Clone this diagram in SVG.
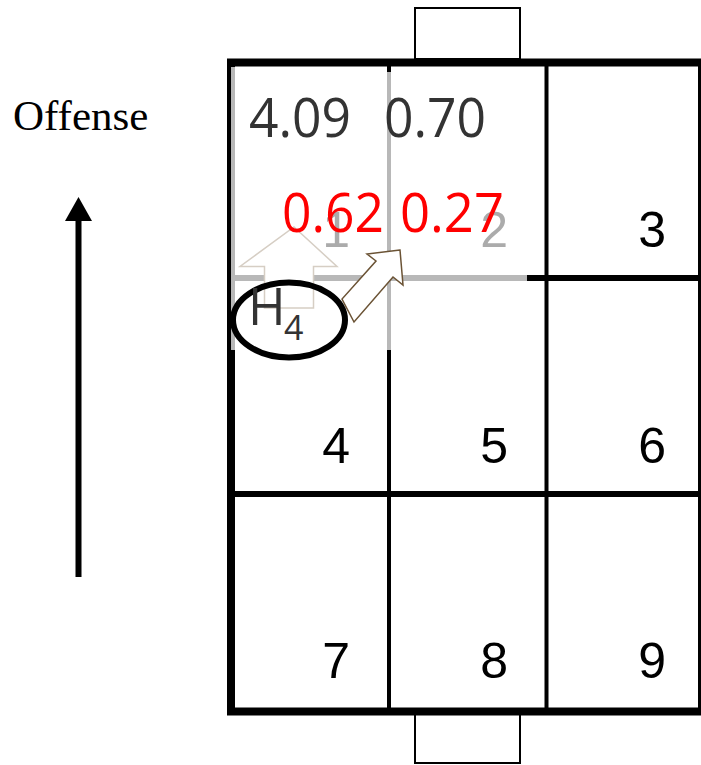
<svg xmlns="http://www.w3.org/2000/svg" width="701" height="765" viewBox="0 0 701 765">
  <style>
    .grid { stroke: #000; fill: none; }
    .hl { stroke: #b8b8b8; fill: none; }
    .goal { fill: #fff; stroke: #000; stroke-width: 2; }
    .cellno { font-family: "Liberation Sans", Arial, sans-serif; font-size: 50px; fill: #000; text-anchor: end; }
    .cellno.dim { fill: #ababab; }
    .val { font-family: "Open Sans", "Noto Sans", sans-serif; font-size: 54px; }
    .val.base { fill: #333; }
    .val.prob { fill: #ff0000; }
  </style>
  <rect width="701" height="765" fill="#fff"/>

  <!-- goal boxes -->
  <g id="goal-top"><rect class="goal" x="415" y="8" width="105" height="51"/></g>
  <g id="goal-bottom"><rect class="goal" x="415" y="714" width="105" height="49"/></g>

  <!-- field grid -->
  <g id="field">
    <line class="grid" x1="389" y1="62" x2="389" y2="711" stroke-width="4"/>
    <line class="grid" x1="546.5" y1="62" x2="546.5" y2="711" stroke-width="4"/>
    <line class="grid" x1="231" y1="278" x2="703" y2="278" stroke-width="6"/>
    <line class="grid" x1="231" y1="494" x2="703" y2="494" stroke-width="6"/>
    <rect class="grid" x="231" y="62.5" width="471" height="649" stroke-width="8"/>
  </g>

  <!-- highlighted zone outline -->
  <g id="zone-highlight">
    <line class="hl" x1="233" y1="67" x2="233" y2="350" stroke-width="4"/>
    <line class="hl" x1="389" y1="72" x2="389" y2="350" stroke-width="4"/>
    <line class="hl" x1="235" y1="278" x2="527" y2="278" stroke-width="6"/>
  </g>

  <!-- zone numbers -->
  <g id="zone-1"><text class="cellno dim" x="350" y="247">1</text></g>
  <g id="zone-2"><text class="cellno dim" x="508" y="247">2</text></g>
  <g id="zone-3"><text class="cellno" x="666" y="247">3</text></g>
  <g id="zone-4"><text class="cellno" x="350" y="463">4</text></g>
  <g id="zone-5"><text class="cellno" x="508" y="463">5</text></g>
  <g id="zone-6"><text class="cellno" x="666" y="463">6</text></g>
  <g id="zone-7"><text class="cellno" x="350" y="678">7</text></g>
  <g id="zone-8"><text class="cellno" x="508" y="678">8</text></g>
  <g id="zone-9"><text class="cellno" x="666" y="678">9</text></g>

  <!-- transition arrows -->
  <g id="connectors">
    <polygon points="294,227 337,266.5 313.5,266.5 313.5,308 264.5,308 264.5,266.5 240,266.5" fill="#fff" stroke="#d6cec4" stroke-width="1.5"/>
    <polygon points="400,250 367,254 376,261 342,299 354,322 393,277 403,285" fill="#fff" stroke="#6b5335" stroke-width="1.5" stroke-linejoin="miter"/>
  </g>

  <!-- player position -->
  <g id="player-h4">
    <ellipse cx="289" cy="320" rx="56" ry="37.5" fill="none" stroke="#000" stroke-width="6"/>
    <text x="248" y="325" font-family="'Open Sans', 'Noto Sans', sans-serif" font-size="51" fill="#333">H</text>
    <text x="284" y="340" font-family="'Open Sans', 'Noto Sans', sans-serif" font-size="34" fill="#333">4</text>
  </g>

  <!-- values -->
  <g id="values">
    <text class="val base" x="249" y="136.5" textLength="102" lengthAdjust="spacingAndGlyphs">4.09</text>
    <text class="val base" x="384" y="136.5" textLength="102" lengthAdjust="spacingAndGlyphs">0.70</text>
    <text class="val prob" x="282" y="231.5" textLength="102" lengthAdjust="spacingAndGlyphs">0.62</text>
    <text class="val prob" x="400" y="231.5" textLength="104" lengthAdjust="spacingAndGlyphs">0.27</text>
  </g>

  <!-- attack direction -->
  <g id="offense">
    <text x="13" y="130" font-family="'Liberation Serif', 'Times New Roman', serif" font-size="43" fill="#000">Offense</text>
    <line x1="78.5" y1="218" x2="78.5" y2="577" stroke="#000" stroke-width="6"/>
    <polygon points="78.5,197 92,221 65,221" fill="#000"/>
  </g>
</svg>
